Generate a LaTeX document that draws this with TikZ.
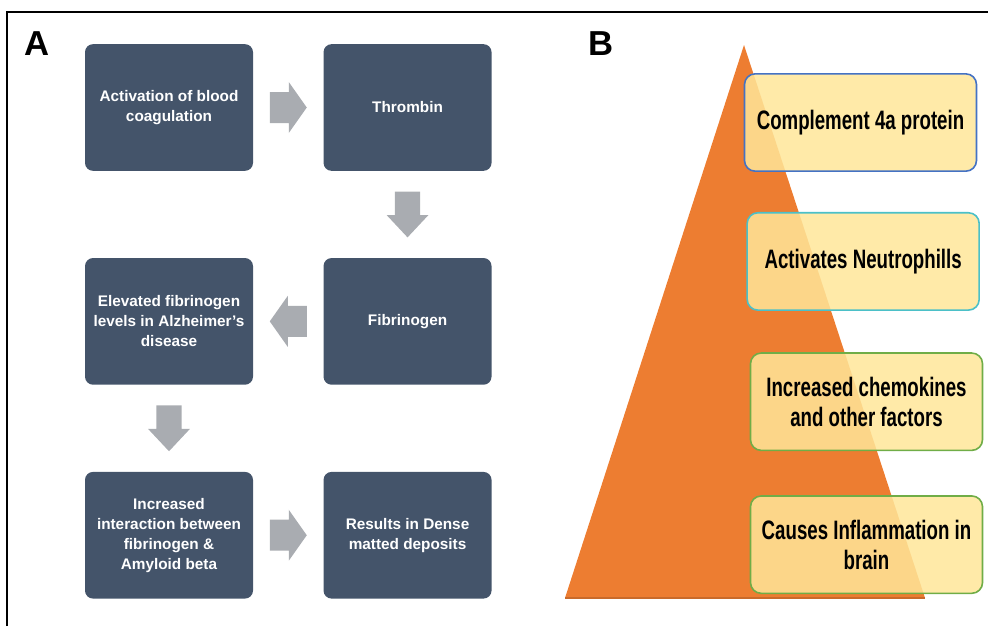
\documentclass[tikz,border=0pt]{standalone}
\usepackage{fontspec}
\setmainfont{Liberation Sans}
\newfontfamily\narrowfont[FakeStretch=0.7]{Liberation Sans}
\usetikzlibrary{positioning,calc}
\definecolor{slate}{HTML}{44546A}
\definecolor{arrowgray}{HTML}{A9ACB1}
\definecolor{pyramid}{HTML}{ED7D31}
\definecolor{note}{HTML}{FFE699}
\definecolor{noteblue}{HTML}{4472C4}
\definecolor{noteteal}{HTML}{4BC0C8}
\definecolor{notegreen}{HTML}{70AD47}
\tikzset{stepbox/.style={rectangle, rounded corners=6pt, fill=slate, text=white,
           font=\bfseries\fontsize{11.5}{15}\selectfont, align=center,
           minimum width=126pt, minimum height=95pt, inner sep=0pt},
         notebox/.style={rectangle, rounded corners=8pt, fill=note, fill opacity=0.85,
           text opacity=1, draw, line width=1.2pt, align=center,
           font=\narrowfont\bfseries\fontsize{20}{22.5}\selectfont,
           minimum width=174pt, minimum height=73pt, inner sep=0pt},
         panel/.style={font=\bfseries\fontsize{26}{26}\selectfont, inner sep=0pt},
         blockarrow/.pic={\fill[arrowgray] (-18.5,-15.5) -- (0.5,-15.5) -- (0.5,-25.5)
           -- (18.5,0) -- (0.5,25.5) -- (0.5,15.5) -- (-18.5,15.5) -- cycle;}}
\begin{document}
\begin{tikzpicture}[x=0.75pt, y=-0.75pt]
	\useasboundingbox (0,0) rectangle (988,626);
	\draw[line width=1.5pt] (7,626) -- (7,12) -- (988,12);

	% panel A
	\node[panel] (labA) at (37,44) {A};
	\node[stepbox] (act) at (169,107.5) {Activation of blood\\coagulation};
	\node[stepbox, right=52.5pt of act] (thr) {Thrombin};
	\node[stepbox, below=65pt of thr] (fib) {Fibrinogen};
	\node[stepbox, below=65pt of act] (elev) {Elevated fibrinogen\\levels in Alzheimer’s\\disease};
	\node[stepbox, below=65pt of elev] (inter) {Increased\\interaction between\\fibrinogen \&\\Amyloid beta};
	\node[stepbox, right=52.5pt of inter] (dense) {Results in Dense\\matted deposits};
	\path ($(act.east)!0.5!(thr.west)$) pic {blockarrow};
	\path ($(thr.south)!0.5!(fib.north)$) pic[rotate=-90, xscale=1.24, yscale=0.82] {blockarrow};
	\path ($(fib.west)!0.5!(elev.east)$) pic[rotate=180] {blockarrow};
	\path ($(elev.south)!0.5!(inter.north)$) pic[rotate=-90, xscale=1.24, yscale=0.82] {blockarrow};
	\path ($(inter.east)!0.5!(dense.west)$) pic {blockarrow};

	% panel B
	\node[panel] (labB) at (601,44) {B};
	\coordinate (apex) at (744,45);
	\coordinate (baseL) at (565,598);
	\coordinate (baseR) at (925,598);
	\fill[pyramid] (apex) -- (baseR) -- (baseL) -- cycle;
	\draw[pyramid!85!black, line width=0.8pt] (baseL) -- (baseR);
	\node[notebox, draw=noteblue] (c4a) at (860.5,122.5) {Complement 4a protein};
	\node[notebox, draw=noteteal, below=30pt of c4a, xshift=2pt] (neu) {Activates Neutrophills};
	\node[notebox, draw=notegreen, below=31pt of neu, xshift=2.5pt] (chem) {Increased chemokines\\and other factors};
	\node[notebox, draw=notegreen, below=33pt of chem] (infl) {Causes Inflammation in\\brain};
\end{tikzpicture}
\end{document}
